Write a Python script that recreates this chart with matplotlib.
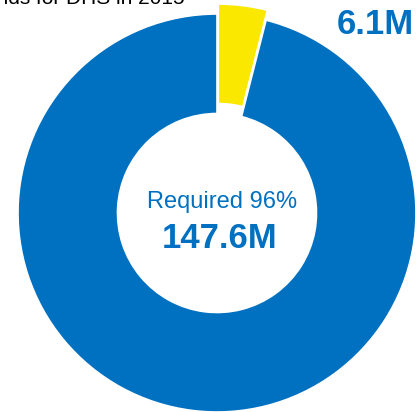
import matplotlib.pyplot as plt

plt.rcParams['font.family'] = ['Liberation Sans', 'DejaVu Sans']

# funding split (millions)
labels = ["Unfunded", "Required"]
values = [6.1, 147.6]
colors = ["#FAE800", "#0070C0"]
center_text = "Required 96%"
center_value = "147.6M"
side_value = "6.1M"
title = "Funds for DHS in 2015"

W, H = 417, 412
fig = plt.figure(figsize=(W / 100, H / 100), dpi=100)
ax = fig.add_axes([0, 0, 1, 1])
ax.set_xlim(0, W)
ax.set_ylim(0, H)
ax.set_aspect('equal')
ax.axis('off')

cx, cy, r = 217, H - 213, 199
# explode is in data units here (pixels)
ax.pie(values, colors=colors, radius=r, center=(cx, cy), startangle=90,
       counterclock=False, explode=[10, 0],
       wedgeprops=dict(width=r * 0.5, edgecolor='white', linewidth=1.2))
ax.set_xlim(0, W)
ax.set_ylim(0, H)

ax.text(cx + 5, H - 202, center_text, color="#0070C0", fontsize=17,
        ha='center', va='center')
ax.text(cx + 3, H - 238, center_value, color="#0070C0", fontsize=25,
        fontweight='bold', ha='center', va='center')
ax.text(375, H - 24, side_value, color="#0070C0", fontsize=25,
        fontweight='bold', ha='center', va='center')
ax.text(185, H - 4, title, color="black", fontsize=15,
        ha='right', va='baseline')

fig.savefig("out.png", dpi=100)
